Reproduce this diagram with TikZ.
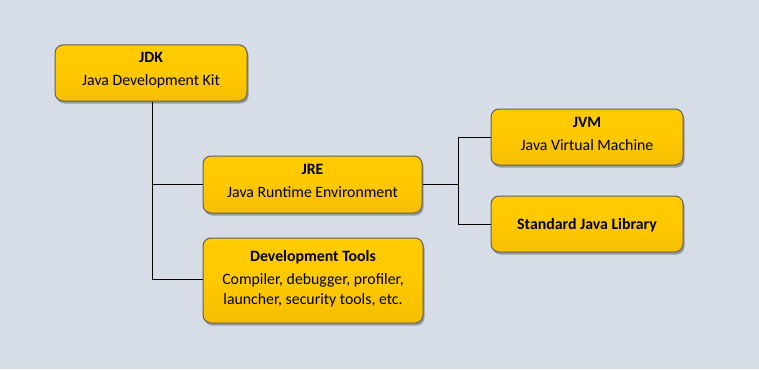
\documentclass[tikz,border=0pt]{standalone}
\usepackage{fontspec}
\setmainfont{Carlito}
\usetikzlibrary{shadows}
\definecolor{bgc}{HTML}{D6DDE7}
\definecolor{goldt}{HTML}{FFCC00}
\definecolor{goldm}{HTML}{FFC800}
\definecolor{goldb}{HTML}{F5BE00}
\definecolor{edgec}{HTML}{5F5F5F}
\begin{document}
\begin{tikzpicture}[x=1pt,y=-1pt,
  box/.style={draw=edgec, line width=1pt, rounded corners=8pt,
    top color=goldt, bottom color=goldb, middle color=goldm,
    drop shadow={shadow xshift=1.5pt, shadow yshift=-2.5pt, fill=black!60, opacity=0.55}},
  txt/.style={align=center, font=\fontsize{15.8}{20}\selectfont, inner sep=0pt},
  conn/.style={draw=black, line width=0.9pt}]
\fill[bgc] (0,0) rectangle (759,369);
\useasboundingbox (0,0) rectangle (759,369);
\node[box, minimum width=192pt, minimum height=56pt] (jdk) at (151,73) {};
\node[txt] (jdkt) at ([yshift=3pt]jdk.center) {\textbf{JDK}\\[3pt]Java Development Kit};
\node[box, minimum width=219pt, minimum height=57pt] (jre) at (312.5,184.5) {};
\node[txt] (jret) at ([yshift=3.5pt]jre.center) {\textbf{JRE}\\[3pt]Java Runtime Environment};
\node[box, minimum width=220pt, minimum height=85pt] (dev) at (313,280.5) {};
\node[txt] (devt) at ([yshift=2pt]dev.center) {\textbf{Development Tools}\\[3pt]Compiler, debugger, profiler,\\launcher, security tools, etc.};
\node[box, minimum width=192pt, minimum height=56pt] (jvm) at (587,137) {};
\node[txt] (jvmt) at ([yshift=3pt]jvm.center) {\textbf{JVM}\\[3pt]Java Virtual Machine};
\node[box, minimum width=192pt, minimum height=56pt] (sjl) at (587,224) {};
\node[txt] (sjlt) at ([yshift=-1pt]sjl.center) {\textbf{Standard Java Library}};
\coordinate (t2) at (152,279);
\coordinate (r1) at (458,185);
\draw[conn] (jdk.south -| t2) -- (t2) -- (t2 -| dev.west);
\draw[conn] (jre.west -| t2) -- (jre.west);
\draw[conn] (jre.east) -- (jre.east -| r1);
\draw[conn] (r1 |- jvm.west) -- (r1 |- sjl.west);
\draw[conn] (r1 |- jvm.west) -- (jvm.west);
\draw[conn] (r1 |- sjl.west) -- (sjl.west);
\end{tikzpicture}
\end{document}
